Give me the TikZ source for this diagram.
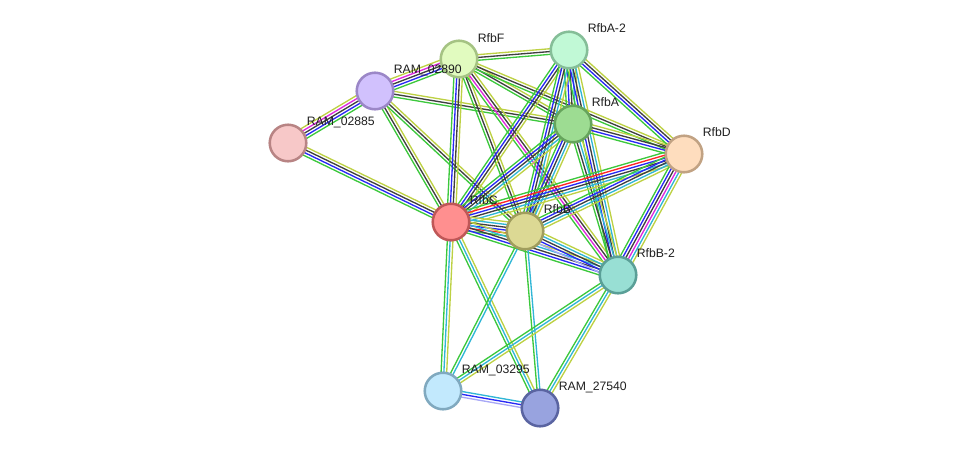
\documentclass[tikz,border=0pt]{standalone}
\usepackage{fontspec}
\setmainfont{Liberation Sans}
\usetikzlibrary{calc,backgrounds}
\definecolor{nbh}{HTML}{3CC83C}
\definecolor{fus}{HTML}{FF2424}
\definecolor{coo}{HTML}{2828F5}
\definecolor{cex}{HTML}{3F3F3F}
\definecolor{exp}{HTML}{DE28DE}
\definecolor{dbs}{HTML}{30B6D6}
\definecolor{txt}{HTML}{BDD143}
\definecolor{hom}{HTML}{A8A8F6}
\definecolor{f85}{HTML}{F7C8C8}\definecolor{d85}{HTML}{B88484}
\definecolor{f90}{HTML}{D1C1FD}\definecolor{d90}{HTML}{9B87C7}
\definecolor{fF}{HTML}{E1FBBF}\definecolor{dF}{HTML}{A5C383}
\definecolor{fA2}{HTML}{C1F9D6}\definecolor{dA2}{HTML}{85BE98}
\definecolor{fA}{HTML}{9DDC92}\definecolor{dA}{HTML}{66A45C}
\definecolor{fD}{HTML}{FEDDBE}\definecolor{dD}{HTML}{C1A283}
\definecolor{fC}{HTML}{FF8F8F}\definecolor{dC}{HTML}{BF5757}
\definecolor{fB}{HTML}{DCD994}\definecolor{dB}{HTML}{A09D5D}
\definecolor{fB2}{HTML}{98DFD4}\definecolor{dB2}{HTML}{5A9F97}
\definecolor{f95}{HTML}{C2E9FD}\definecolor{d95}{HTML}{80A9BF}
\definecolor{f40}{HTML}{98A3DF}\definecolor{d40}{HTML}{5A64A1}
\tikzset{
  prot/.style={circle,fill=f#1,draw=d#1,line width=1.8pt,
    minimum size=26pt,inner sep=0pt},
  lbl/.style={anchor=base west,inner sep=0pt,
    font=\fontsize{8.7}{10}\selectfont,text=black!88},
  strand/.style={line width=0.95pt}
}
\newcommand{\edge}[3]{%
  \gdef\nstr{0}%
  \foreach \c in {#3}{\pgfmathtruncatemacro\k{\nstr+1}\xdef\nstr{\k}}%
  \foreach \c [count=\i] in {#3}{%
    \pgfmathsetmacro\off{(\i-(\nstr+1)/2)*2.0}%
    \draw[strand,draw=\c] ($(#1)!\off pt!90:(#2)$) -- ($(#2)!\off pt!-90:(#1)$);
  }}

\begin{document}
\begin{tikzpicture}[x=0.025cm,y=-0.025cm]
    \useasboundingbox (0,0) rectangle (976,454);
    \node[prot=85] (r85) at (288,143) {};
    \node[prot=90] (r90) at (375,91) {};
    \node[prot=F] (rfbF) at (459,59) {};
    \node[prot=A2] (rfbA2) at (569,50) {};
    \node[prot=A] (rfbA) at (573,124) {};
    \node[prot=D] (rfbD) at (684,154) {};
    \node[prot=C] (rfbC) at (451,222) {};
    \node[prot=B] (rfbB) at (525,231) {};
    \node[prot=B2] (rfbB2) at (618,275) {};
    \node[prot=95] (r95) at (443,391) {};
    \node[prot=40] (r40) at (540,408) {};
    \node[lbl] (t85) at ($(r85)+(18.5,-18)$) {RAM\_02885};
    \node[lbl] (t90) at ($(r90)+(18.5,-18)$) {RAM\_02890};
    \node[lbl] (tF) at ($(rfbF)+(18.5,-17)$) {RfbF};
    \node[lbl] (tA2) at ($(rfbA2)+(18.5,-18)$) {RfbA-2};
    \node[lbl] (tA) at ($(rfbA)+(18.5,-18)$) {RfbA};
    \node[lbl] (tD) at ($(rfbD)+(18.5,-18)$) {RfbD};
    \node[lbl] (tC) at ($(rfbC)+(18.5,-17.5)$) {RfbC};
    \node[lbl] (tB) at ($(rfbB)+(18.5,-18)$) {RfbB};
    \node[lbl] (tB2) at ($(rfbB2)+(18.5,-17.5)$) {RfbB-2};
    \node[lbl] (t95) at ($(r95)+(18.5,-18)$) {RAM\_03295};
    \node[lbl] (t40) at ($(r40)+(18.5,-18)$) {RAM\_27540};
    \begin{scope}[on background layer]
      \edge{r85}{r90}{nbh,coo,cex,exp,txt}
      \edge{r85}{rfbC}{nbh,coo,cex,txt}
      \edge{r90}{rfbF}{nbh,coo,cex,exp,txt}
      \edge{r90}{rfbA}{nbh,cex,txt}
      \edge{r90}{rfbC}{nbh,cex,txt}
      \edge{r90}{rfbB}{nbh,cex,txt}
      \edge{rfbF}{rfbA2}{nbh,cex,txt}
      \edge{rfbF}{rfbA}{nbh,cex,txt}
      \edge{rfbF}{rfbD}{nbh,cex,txt}
      \edge{rfbF}{rfbC}{nbh,coo,cex,txt}
      \edge{rfbF}{rfbB}{nbh,cex,txt}
      \edge{rfbF}{rfbB2}{nbh,exp,cex,txt}
      \edge{rfbA2}{rfbA}{nbh,coo,cex,dbs,txt}
      \edge{rfbA2}{rfbD}{nbh,coo,cex,txt}
      \edge{rfbA2}{rfbC}{nbh,coo,cex,txt}
      \edge{rfbA2}{rfbB}{nbh,coo,cex,dbs,txt}
      \edge{rfbA2}{rfbB2}{nbh,coo,cex,dbs,txt}
      \edge{rfbA}{rfbD}{nbh,coo,cex,txt}
      \edge{rfbA}{rfbC}{nbh,coo,cex,dbs,txt}
      \edge{rfbA}{rfbB}{nbh,coo,cex,dbs,txt}
      \edge{rfbA}{rfbB2}{nbh,cex,dbs,txt}
      \edge{rfbD}{rfbC}{nbh,fus,coo,cex,dbs,txt}
      \edge{rfbD}{rfbB}{nbh,coo,cex,dbs,txt}
      \edge{rfbD}{rfbB2}{nbh,coo,cex,exp,dbs,txt}
      \edge{rfbC}{rfbB}{nbh,fus,coo,cex,dbs,txt}
      \edge{rfbC}{rfbB2}{nbh,coo,cex,dbs,txt}
      \edge{rfbB}{rfbB2}{hom,coo,cex,dbs,txt}
      \edge{rfbC}{r95}{nbh,dbs,txt}
      \edge{rfbC}{r40}{nbh,dbs,txt}
      \edge{rfbB}{r95}{nbh,dbs}
      \edge{rfbB}{r40}{nbh,dbs}
      \edge{rfbB2}{r95}{nbh,dbs,txt}
      \edge{rfbB2}{r40}{nbh,dbs,txt}
      \edge{r95}{r40}{hom,coo,dbs}
    \end{scope}
  \end{tikzpicture}
\end{document}
